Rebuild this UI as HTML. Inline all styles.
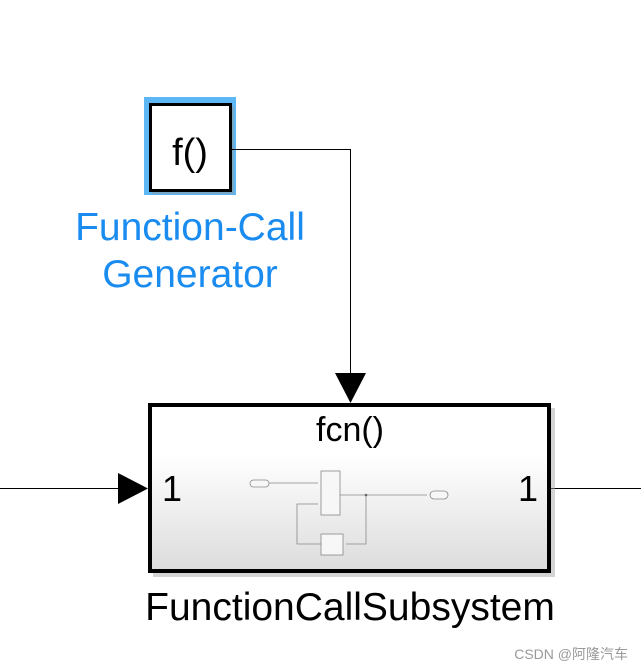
<!DOCTYPE html>
<html><head><style>
html,body{margin:0;padding:0;background:#fff;}
body{width:641px;height:671px;position:relative;overflow:hidden;font-family:"Liberation Sans","Noto Sans CJK SC",sans-serif;}
</style></head><body>
<svg width="641" height="671" style="position:absolute;left:0;top:0" font-family="Liberation Sans, Noto Sans CJK SC, sans-serif">
<defs>
<linearGradient id="g" x1="0" y1="0" x2="0" y2="1">
<stop offset="0" stop-color="#ffffff"/><stop offset="0.3" stop-color="#ffffff"/><stop offset="1" stop-color="#dcdcdc"/>
</linearGradient>
</defs>
<rect x="144" y="97" width="92" height="98" fill="#5db7f5"/>
<rect x="152" y="106" width="82" height="88" fill="#999" opacity="0.5"/>
<rect x="150.5" y="104.5" width="80" height="86" fill="#fff" stroke="#000" stroke-width="3"/>
<text x="190" y="165" font-size="38" text-anchor="middle" fill="#000">f()</text>
<text x="190" y="240" font-size="39" text-anchor="middle" fill="#1a8cf0">Function-Call</text>
<text x="190" y="287" font-size="39" text-anchor="middle" fill="#1a8cf0">Generator</text>
<polyline points="232,149.5 350.5,149.5 350.5,374" fill="none" stroke="#000" stroke-width="1"/>
<polygon points="335,373 366,373 350.5,403" fill="#000"/>
<line x1="0" y1="488.5" x2="120" y2="488.5" stroke="#000"/>
<polygon points="118,473 118,504 148,488.5" fill="#000"/>
<line x1="551" y1="488.5" x2="641" y2="488.5" stroke="#000"/>
<rect x="153" y="408" width="402" height="169" fill="#aaa" opacity="0.5"/>
<rect x="150" y="405" width="399" height="166" fill="url(#g)" stroke="#000" stroke-width="4"/>
<text x="350" y="441" font-size="34" text-anchor="middle" fill="#000">fcn()</text>
<text x="162" y="501" font-size="36" fill="#000">1</text>
<text x="518" y="501" font-size="36" fill="#000">1</text>
<g stroke="#888" stroke-width="0.8" fill="#f7f7f7">
<rect x="250" y="480" width="19" height="7" rx="3.5"/>
<rect x="430" y="491" width="18" height="8" rx="4"/>
<rect x="321" y="471" width="19" height="44"/>
<rect x="321" y="534" width="22" height="21"/>
<polyline points="269,483 318,483" fill="none"/>
<polyline points="340,495 427,495" fill="none"/>
<polyline points="366,495 366,544 346,544" fill="none"/>
<polyline points="318,504 297,504 297,544 321,544" fill="none"/>
</g>
<circle cx="366" cy="495" r="1.3" fill="#666"/>
<text x="350" y="620" font-size="39" text-anchor="middle" fill="#000">FunctionCallSubsystem</text>
<text x="628" y="659" font-size="14" text-anchor="end" fill="#999">CSDN @阿隆汽车</text>
</svg>
</body></html>
